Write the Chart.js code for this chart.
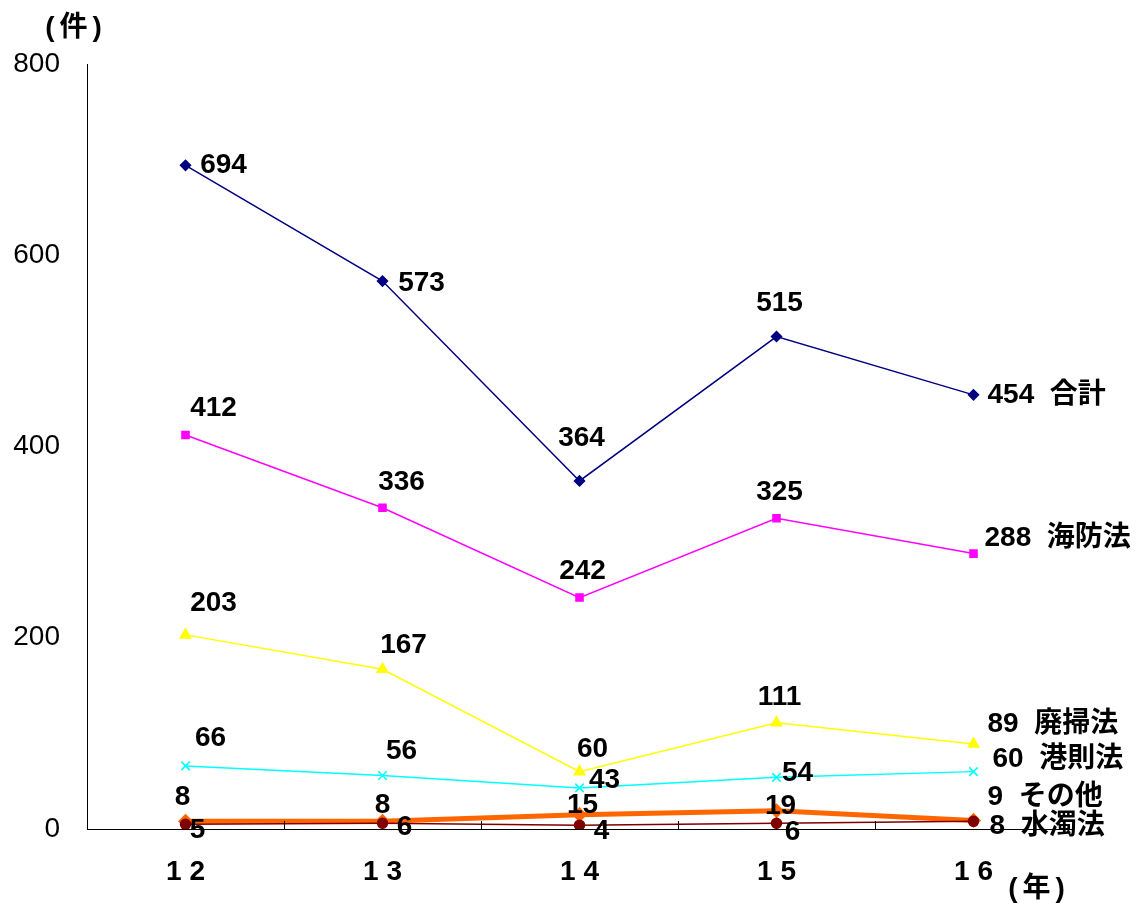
<!DOCTYPE html>
<html lang="ja">
<head>
<meta charset="utf-8">
<script src="https://cdn.jsdelivr.net/npm/chart.js@4.4.1/dist/chart.umd.min.js"></script>
<style>
  html, body { margin: 0; padding: 0; background: #fff; }
  canvas { display: block; }
</style>
</head>
<body>
<canvas id="chart" width="1138" height="905"></canvas>
<script>
// données du graphique
const years = ['1 2', '1 3', '1 4', '1 5', '1 6'];
const seriesNames = ['合計', '海防法', '廃掃法', '港則法', '水濁法', 'その他'];
const total = [694, 573, 364, 515, 454];
const kaibo = [412, 336, 242, 325, 288];
const haiso = [203, 167, 60, 111, 89];
const kosoku = [66, 56, 43, 54, 60];
const suidaku = [5, 6, 4, 6, 8];
const sonota = [8, 8, 15, 19, 9];
const yMax = 800;
const yStep = 200;

// décalage des étiquettes [dx, dy] par rapport à chaque point
const labelOffsets = [
    [[38, 0], [39, 2], [2, -43], [3, -33], [14, 0]],
    [[28, -27], [19, -25], [3, -26], [3, -26], [11, -15]],
    [[28, -32], [21, -24], [13, -22], [3, -26], [14, -20]],
    [[25, -28], [19, -24], [25, -8], [21, -4], [19, -12]],
    [[12, 6], [22, 4], [22, 6], [16, 9], [16, 5]],
    [[-3, -24], [0, -16], [3, -9], [4, -5], [14, -23]]
];

const FONT = "'Liberation Sans', 'Noto Sans CJK JP', sans-serif";

// Plugin : étiquettes de valeurs, titres d'axes, petites graduations
const customLabels = {
    id: 'customLabels',
    afterDatasetsDraw(chart) {
        const { ctx } = chart;
        ctx.save();
        ctx.fillStyle = '#000';
        ctx.font = 'bold 28px ' + FONT;
        ctx.textBaseline = 'middle';
        chart.data.datasets.forEach((ds, d) => {
            const meta = chart.getDatasetMeta(d);
            meta.data.forEach((pt, i) => {
                const [dx, dy] = labelOffsets[d][i];
                const last = i === ds.data.length - 1;
                if (last) {
                    // dernière valeur suivie du nom de la série
                    ctx.textAlign = 'left';
                    ctx.fillText(ds.data[i] + '  ' + seriesNames[d], pt.x + dx, pt.y + dy);
                } else {
                    ctx.textAlign = 'center';
                    ctx.fillText(String(ds.data[i]), pt.x + dx, pt.y + dy);
                }
            });
        });
        ctx.restore();
    },
    afterDraw(chart) {
        const { ctx, chartArea } = chart;
        const xs = chart.scales.x;
        const step = xs.getPixelForValue(1) - xs.getPixelForValue(0);
        ctx.save();
        // graduations vers l'intérieur entre les catégories
        ctx.strokeStyle = '#000';
        ctx.lineWidth = 1;
        for (let i = 1; i < years.length; i++) {
            const x = Math.round(xs.getPixelForValue(i) - step / 2) + 0.5;
            ctx.beginPath();
            ctx.moveTo(x, chartArea.bottom);
            ctx.lineTo(x, chartArea.bottom - 8);
            ctx.stroke();
        }
        // titres des axes
        ctx.fillStyle = '#000';
        ctx.font = 'bold 28px ' + FONT;
        ctx.textAlign = 'center';
        ctx.textBaseline = 'middle';
        ctx.letterSpacing = '5px';
        ctx.fillText('(件)', 76, 28);
        ctx.fillText('(年)', 1039, 889);
        ctx.restore();
    }
};

const ctx = document.getElementById('chart').getContext('2d');

new Chart(ctx, {
    type: 'line',
    data: {
        labels: years,
        datasets: [
            {
                label: seriesNames[0], data: total,
                borderColor: '#000080', backgroundColor: '#000080', borderWidth: 1.5,
                pointStyle: 'rectRot', pointRadius: 5
            },
            {
                label: seriesNames[1], data: kaibo,
                borderColor: '#FF00FF', backgroundColor: '#FF00FF', borderWidth: 1.5,
                pointStyle: 'rect', pointRadius: 5
            },
            {
                label: seriesNames[2], data: haiso,
                borderColor: '#FFFF00', backgroundColor: '#FFFF00', borderWidth: 1.5,
                pointStyle: 'triangle', pointRadius: 6
            },
            {
                label: seriesNames[3], data: kosoku,
                borderColor: '#00FFFF', backgroundColor: '#00FFFF', borderWidth: 1.5,
                pointStyle: 'crossRot', pointRadius: 6, pointBorderWidth: 1.5
            },
            {
                label: seriesNames[4], data: suidaku,
                borderColor: '#800000', backgroundColor: '#800000', borderWidth: 1.5,
                pointStyle: 'circle', pointRadius: 5
            },
            {
                label: seriesNames[5], data: sonota,
                borderColor: '#FF6600', backgroundColor: '#FF6600', borderWidth: 5,
                pointStyle: 'rectRot', pointRadius: 4
            }
        ]
    },
    options: {
        responsive: false,
        animation: false,
        layout: {
            padding: { top: 64, right: 66, bottom: 0, left: 0 }
        },
        elements: {
            line: { tension: 0 }
        },
        plugins: {
            legend: { display: false },
            tooltip: { enabled: false },
            title: { display: false }
        },
        scales: {
            x: {
                offset: true,
                grid: { display: false, drawTicks: false },
                border: { display: true, color: '#000', width: 1 },
                ticks: {
                    color: '#000',
                    padding: 26,
                    maxRotation: 0,
                    font: { family: FONT, size: 28, weight: 'bold' }
                },
                afterFit(scale) { scale.height = 76; }
            },
            y: {
                min: 0,
                max: yMax,
                grid: { display: false, drawTicks: false },
                border: { display: true, color: '#000', width: 1 },
                ticks: {
                    stepSize: yStep,
                    color: '#000',
                    padding: 27,
                    font: { family: FONT, size: 28 }
                },
                afterFit(scale) { scale.width = 87; }
            }
        }
    },
    plugins: [customLabels]
});
</script>
</body>
</html>
